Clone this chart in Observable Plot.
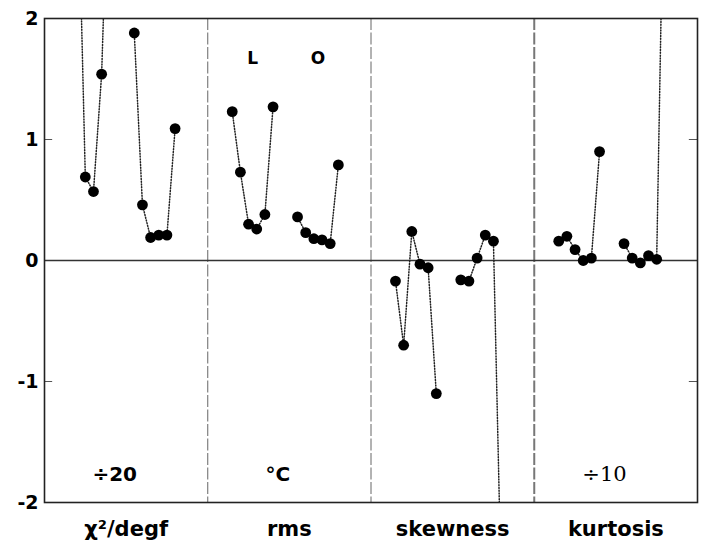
<!DOCTYPE html>
<html>
<head>
<meta charset="utf-8">
<script src="https://cdn.jsdelivr.net/npm/d3@7"></script>
<script src="https://cdn.jsdelivr.net/npm/@observablehq/plot@0.6"></script>
<style>
  html, body { margin: 0; padding: 0; background: #fff; }
</style>
</head>
<body>
<div id="chart"></div>
<script>
// ---- data ----
const panels = ["χ²/degf", "rms", "skewness", "kurtosis"];
const unitLabels = ["÷20", "°C", "", "÷10"];
const groupLabels = ["L", "O"];
const yTicks = [-2, -1, 0, 1, 2];
const minorTicks = [-1, 1];

const chi2_L = [3.2, 3.5, 0.69, 0.57, 1.54, 3.7];
const chi2_O = [1.88, 0.46, 0.19, 0.21, 0.21, 1.09];
const rms_L = [1.23, 0.73, 0.30, 0.26, 0.38, 1.27];
const rms_O = [0.36, 0.23, 0.18, 0.17, 0.14, 0.79];
const skew_L = [-0.17, -0.70, 0.24, -0.03, -0.06, -1.10];
const skew_O = [-0.16, -0.17, 0.02, 0.21, 0.16, -2.83];
const kurt_L = [0.16, 0.20, 0.09, 0.00, 0.02, 0.90];
const kurt_O = [0.14, 0.02, -0.02, 0.04, 0.01, 3.77];

const series = [
  [chi2_L, chi2_O],
  [rms_L, rms_O],
  [skew_L, skew_O],
  [kurt_L, kurt_O]
];

// ---- layout within each panel (panel i spans [i, i+1]) ----
const groupStart = [0.15, 0.55];
const step = 0.05;
const tickLen = 0.05; // inward tick length in panel units

const points = [];
series.forEach((groups, p) => {
  groups.forEach((vals, g) => {
    vals.forEach((v, k) => {
      points.push({x: p + groupStart[g] + step * k, y: v, z: `${p}-${g}`});
    });
  });
});

const groupText = groupLabels.map((t, g) => ({t, x: 1 + groupStart[g] + step * 2.5, y: 1.67}));
const unitText = unitLabels.map((t, p) => ({t, x: p + 0.43, y: -1.77, serif: p === 3})).filter(d => d.t);

const sans = "DejaVu Sans, Liberation Sans, sans-serif";
const nPanels = panels.length;

const chart = Plot.plot({
  width: 718,
  height: 554,
  marginLeft: 44,
  marginRight: 21,
  marginTop: 18,
  marginBottom: 52,
  style: {fontFamily: sans, background: "#fff", color: "#000"},
  x: {domain: [0, nPanels], axis: null},
  y: {domain: [-2, 2], axis: null},
  marks: [
    Plot.ruleX([1, 2], {stroke: "#666", strokeWidth: 1, strokeDasharray: "12,2.5"}),
    Plot.ruleX([3], {stroke: "#777", strokeWidth: 2, strokeDasharray: "12,2.5"}),
    Plot.ruleY([0], {stroke: "#333", strokeWidth: 1.6}),
    Plot.ruleY(minorTicks, {x1: 0, x2: tickLen, stroke: "#555", strokeWidth: 1}),
    Plot.ruleY(minorTicks, {x1: nPanels - tickLen, x2: nPanels, stroke: "#555", strokeWidth: 1}),
    Plot.line(points, {x: "x", y: "y", z: "z", stroke: "#222", strokeWidth: 1.5, strokeDasharray: "1,1.8", clip: true}),
    Plot.dot(points, {x: "x", y: "y", r: 5.4, fill: "#000", stroke: "none", clip: true}),
    Plot.frame({stroke: "#222", strokeWidth: 1.6}),
    Plot.axisY(yTicks, {anchor: "left", label: null, tickSize: 0, tickPadding: 6, tickFormat: d => `${d}`, fontSize: 19, fontWeight: "bold", fontFamily: sans}),
    Plot.axisX(panels.map((d, i) => i + 0.5), {anchor: "bottom", label: null, tickSize: 0, tickPadding: 19, tickFormat: d => panels[Math.floor(d)], fontSize: 21, fontWeight: "bold", fontFamily: sans}),
    Plot.text(groupText, {x: "x", y: "y", text: "t", fontSize: 17, fontWeight: "bold", fontFamily: sans}),
    Plot.text(unitText.filter(d => !d.serif), {x: "x", y: "y", text: "t", fontSize: 20, fontWeight: "bold", fontFamily: sans}),
    Plot.text(unitText.filter(d => d.serif), {x: "x", y: "y", text: "t", fontSize: 21, fontFamily: "DejaVu Serif, Liberation Serif, serif"})
  ]
});

document.getElementById("chart").appendChild(chart);
</script>
</body>
</html>
